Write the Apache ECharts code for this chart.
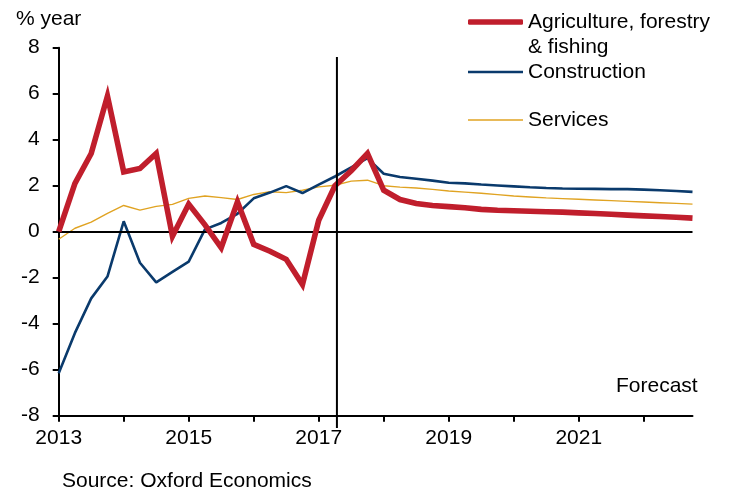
<!DOCTYPE html>
<html>
<head>
<meta charset="utf-8">
<script src="https://cdn.jsdelivr.net/npm/echarts@6/dist/echarts.min.js"></script>
<style>
html,body{margin:0;padding:0;background:#fff;}
#chart{width:729px;height:494px;}
</style>
</head>
<body>
<div id="chart"></div>
<script>
// Quarterly categories 2013Q1 .. 2022Q4
const years = [2013,2014,2015,2016,2017,2018,2019,2020,2021,2022];
const quarters = ['Q1','Q2','Q3','Q4'];
const categories = [];
years.forEach(y => quarters.forEach(q => categories.push(y + q)));

const agriculture = [
  0.0, 2.1, 3.4, 5.9,
  2.6, 2.75, 3.4, -0.2,
  1.2, 0.3, -0.7, 1.3,
  -0.55, -0.85, -1.2, -2.3,
  0.5, 2.0, 2.65, 3.4,
  1.8, 1.4, 1.23, 1.14,
  1.09, 1.04, 0.97, 0.93,
  0.91, 0.89, 0.87, 0.85,
  0.82, 0.79, 0.76, 0.72,
  0.69, 0.66, 0.63, 0.59
];
const construction = [
  -6.15, -4.4, -2.9, -1.95,
  0.45, -1.35, -2.2, -1.75,
  -1.3, 0.1, 0.38, 0.78,
  1.45, 1.7, 1.98, 1.68,
  2.05, 2.4, 2.8, 3.2,
  2.52, 2.38, 2.3, 2.22,
  2.13, 2.1, 2.05, 2.01,
  1.97, 1.93, 1.9, 1.88,
  1.87, 1.86, 1.85, 1.85,
  1.83, 1.8, 1.77, 1.73
];
const services = [
  -0.33, 0.15, 0.42, 0.8,
  1.14, 0.94, 1.1, 1.19,
  1.45, 1.55, 1.48, 1.4,
  1.62, 1.74, 1.7, 1.8,
  1.95, 2.02, 2.2, 2.24,
  2.0, 1.94, 1.9, 1.84,
  1.77, 1.72, 1.67, 1.61,
  1.55, 1.51, 1.47, 1.44,
  1.41, 1.38, 1.35, 1.32,
  1.29, 1.26, 1.23, 1.2
];
const seriesNames = ['Agriculture, forestry & fishing', 'Construction', 'Services'];
const yTicks = { min: -8, max: 8, interval: 2 };
const forecastStart = 17.12; // category position where forecast begins

const FONT = '"Liberation Sans", Arial, sans-serif';
const RED = '#c01e2c', BLUE = '#0a3a6c', YELLOW = '#e0a322';

const chart = echarts.init(document.getElementById('chart'), null, {renderer: 'canvas'});

const legendText = { color: '#000', fontSize: 21, fontFamily: FONT };

chart.setOption({
  backgroundColor: '#fff',
  animation: false,
  title: [
    { text: '% year', left: 16, top: 7, padding: 0,
      textStyle: { color: '#000', fontSize: 21, fontWeight: 'normal', fontFamily: FONT, lineHeight: 24 } },
    { text: 'Source: Oxford Economics', left: 62, top: 469, padding: 0,
      textStyle: { color: '#000', fontSize: 21, fontWeight: 'normal', fontFamily: FONT, lineHeight: 24 } },
    { text: 'Forecast', left: 616, top: 374, padding: 0,
      textStyle: { color: '#000', fontSize: 21, fontWeight: 'normal', fontFamily: FONT, lineHeight: 24 } }
  ],
  legend: [
    { data: [seriesNames[0]], left: 468, top: -15.5, padding: 0, itemWidth: 55, itemHeight: 5.5,
      icon: 'roundRect',
      formatter: () => '\nAgriculture, forestry\n& fishing',
      textStyle: Object.assign({ lineHeight: 25 }, legendText) },
    { data: [seriesNames[1]], left: 468, top: 61.5, padding: 0, itemWidth: 55, itemHeight: 2.6,
      icon: 'rect', textStyle: legendText },
    { data: [seriesNames[2]], left: 468, top: 109.5, padding: 0, itemWidth: 55, itemHeight: 1.4,
      icon: 'rect', textStyle: legendText }
  ],
  grid: { left: 58.7, right: 36.5, top: 47.7, bottom: 78.3, containLabel: false },
  xAxis: {
    type: 'category',
    data: categories,
    boundaryGap: false,
    axisLine: { onZero: false, lineStyle: { color: '#000', width: 2 } },
    axisTick: { show: true, length: 6, interval: (i) => i % 4 === 0, lineStyle: { color: '#000', width: 2 } },
    axisLabel: { interval: (i) => i % 8 === 0, formatter: (v) => v.slice(0, 4),
      color: '#000', fontSize: 21, fontFamily: FONT, margin: 12 },
    splitLine: { show: false }
  },
  yAxis: {
    type: 'value',
    min: yTicks.min, max: yTicks.max, interval: yTicks.interval,
    axisLine: { show: true, lineStyle: { color: '#000', width: 2 } },
    axisTick: { show: true, length: 6, lineStyle: { color: '#000', width: 2 } },
    axisLabel: { color: '#000', fontSize: 21, fontFamily: FONT, margin: 19 },
    splitLine: { show: false }
  },
  series: [
    { name: seriesNames[2], type: 'line', data: services, symbol: 'none', z: 3,
      lineStyle: { color: YELLOW, width: 1.4 }, itemStyle: { color: YELLOW },
      markLine: { silent: true, symbol: 'none', label: { show: false },
        lineStyle: { color: '#000', width: 2, type: 'solid' }, data: [{ yAxis: 0 }] } },
    { name: seriesNames[1], type: 'line', data: construction, symbol: 'none', z: 4,
      lineStyle: { color: BLUE, width: 2.6 }, itemStyle: { color: BLUE } },
    { name: seriesNames[0], type: 'line', data: agriculture, symbol: 'none', z: 5,
      lineStyle: { color: RED, width: 5.6, join: 'miter' }, itemStyle: { color: RED } }
  ]
});

// Forecast divider: positioned from the category axis scale
const p0 = chart.convertToPixel({ xAxisIndex: 0 }, Math.floor(forecastStart));
const p1 = chart.convertToPixel({ xAxisIndex: 0 }, Math.floor(forecastStart) + 1);
const fx = p0 + (forecastStart - Math.floor(forecastStart)) * (p1 - p0);
const topPx = chart.convertToPixel({ yAxisIndex: 0 }, 7.6);
chart.setOption({
  graphic: [{
    type: 'line', silent: true, z: 10,
    shape: { x1: fx, y1: topPx, x2: fx, y2: 428 },
    style: { stroke: '#000', lineWidth: 2 }
  }]
});
</script>
</body>
</html>
